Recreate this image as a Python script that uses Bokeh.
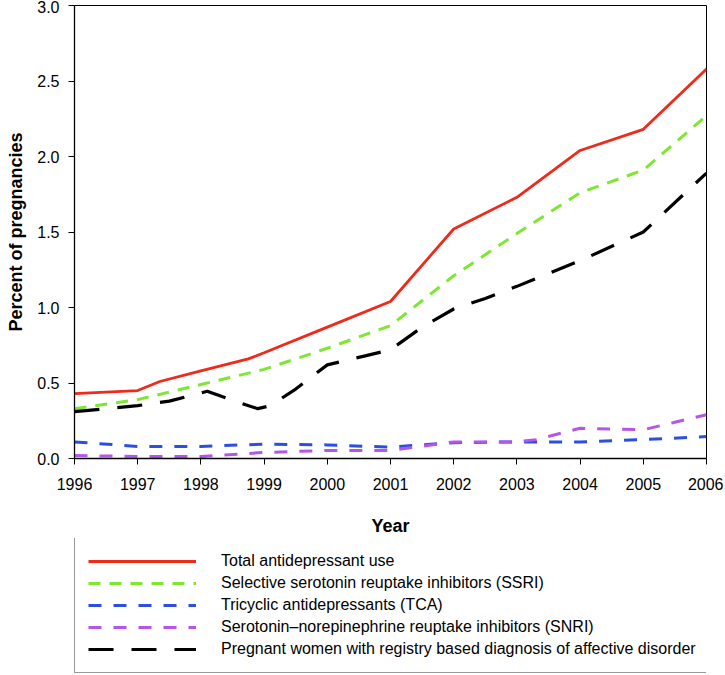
from bokeh.plotting import figure
from bokeh.layouts import column
from bokeh.models import FixedTicker, PrintfTickFormatter, Legend, LegendItem, Range1d
from bokeh.embed import file_html
from bokeh.resources import INLINE

# ---- data ----
year_ticks = [1996, 1997, 1998, 1999, 2000, 2001, 2002, 2003, 2004, 2005, 2006]
y_ticks = [0.0, 0.5, 1.0, 1.5, 2.0, 2.5, 3.0]

total_years = [1996, 1997, 1997.35, 1998, 1998.75, 1999, 2000, 2001, 2002, 2003, 2004, 2005, 2006]
total_use = [0.43, 0.45, 0.51, 0.58, 0.66, 0.70, 0.87, 1.04, 1.52, 1.73, 2.04, 2.18, 2.58]

ssri_years = [1996, 1997, 1998, 1999, 2000, 2001, 2002, 2003, 2004, 2005, 2006]
ssri = [0.33, 0.39, 0.49, 0.59, 0.73, 0.88, 1.21, 1.49, 1.76, 1.91, 2.27]

tca_years = [1996, 1997, 1998, 1999, 2000, 2001, 2002, 2003, 2004, 2005, 2006]
tca = [0.11, 0.08, 0.08, 0.095, 0.09, 0.075, 0.105, 0.11, 0.11, 0.125, 0.145]

snri_years = [1996, 1997, 1998, 1999, 2000, 2001, 2002, 2003, 2003.3, 2004, 2005, 2005.5, 2006]
snri = [0.02, 0.013, 0.013, 0.04, 0.053, 0.053, 0.11, 0.11, 0.125, 0.20, 0.19, 0.24, 0.29]

aff_years = [1996, 1997, 1997.5, 1998.1, 1998.5, 1998.9, 1999.1, 1999.5, 2000, 2000.6, 2001,
             2001.5, 2002, 2002.5, 2003, 2004, 2005, 2006]
affective = [0.31, 0.35, 0.38, 0.445, 0.385, 0.33, 0.35, 0.46, 0.62, 0.68, 0.72,
             0.87, 0.99, 1.06, 1.14, 1.31, 1.50, 1.89]

labels = [
    "Total antidepressant use",
    "Selective serotonin reuptake inhibitors (SSRI)",
    "Tricyclic antidepressants (TCA)",
    "Serotonin\u2013norepinephrine reuptake inhibitors (SNRI)",
    "Pregnant women with registry based diagnosis of affective disorder",
]

styles = [
    dict(line_color="#ee2a1b", line_width=2.8),
    dict(line_color="#7fe632", line_width=3, line_dash="12 9"),
    dict(line_color="#2c4fe2", line_width=3, line_dash="13 12"),
    dict(line_color="#b457e8", line_width=3, line_dash="13 12"),
    dict(line_color="black", line_width=3.2, line_dash="25 18"),
]

FONT = "Liberation Sans"

p = figure(width=723, height=538, output_backend="svg", toolbar_location=None,
           x_range=Range1d(1996, 2006), y_range=Range1d(0, 3),
           min_border_left=74, min_border_right=17, min_border_top=5, min_border_bottom=79)
p.background_fill_color = "white"
p.border_fill_color = "white"
p.outline_line_color = "black"
p.outline_line_width = 1
p.xgrid.visible = False
p.ygrid.visible = False

series = [(total_years, total_use), (ssri_years, ssri), (tca_years, tca),
          (snri_years, snri), (aff_years, affective)]
for (xs, ys), st in zip(series, styles):
    p.line(xs, ys, **st)

for ax in (p.xaxis[0], p.yaxis[0]):
    ax.axis_line_color = "black"
    ax.axis_line_width = 1.3
    ax.major_tick_line_color = "black"
    ax.major_tick_in = 0
    ax.major_tick_out = 6
    ax.minor_tick_line_color = None
    ax.major_label_text_font = FONT
    ax.major_label_text_font_size = "16px"
    ax.major_label_text_color = "black"
    ax.axis_label_text_font = FONT
    ax.axis_label_text_font_style = "bold"
    ax.axis_label_text_font_size = "18px"
    ax.axis_label_text_color = "black"

p.xaxis.ticker = FixedTicker(ticks=year_ticks)
p.xaxis.axis_label = "Year"
p.xaxis.major_label_standoff = 13
p.xaxis.axis_label_standoff = 23

p.yaxis.ticker = FixedTicker(ticks=y_ticks)
p.yaxis.formatter = PrintfTickFormatter(format="%.1f")
p.yaxis.axis_label = "Percent of pregnancies"
p.yaxis.major_label_standoff = 9
p.yaxis.axis_label_standoff = 8

# ---- legend panel (same series, drawn outside its visible range; only the key shows) ----
lg = figure(width=723, height=136, output_backend="svg", toolbar_location=None,
            x_range=Range1d(0, 1), y_range=Range1d(10, 11),
            min_border_left=0, min_border_right=0, min_border_top=0, min_border_bottom=0)
lg.axis.visible = False
lg.xgrid.visible = False
lg.ygrid.visible = False
lg.outline_line_color = None
lg.background_fill_color = "white"
lg.border_fill_color = "white"

items = []
for lab, (xs, ys), st in zip(labels, series, styles):
    r = lg.line(xs, ys, **st)
    items.append(LegendItem(label=lab, renderers=[r]))

legend = Legend(items=items, location=(0, 1), orientation="vertical")
legend.border_line_color = "#333333"
legend.border_line_width = 1.3
legend.background_fill_alpha = 1
legend.padding = 13
legend.spacing = 2
legend.margin = 0
legend.glyph_width = 108
legend.glyph_height = 20
legend.label_height = 20
legend.label_standoff = 25
legend.label_text_font = FONT
legend.label_text_font_size = "16px"
legend.label_text_color = "black"
lg.add_layout(legend, "center")

layout = column(p, lg, spacing=0)
open("out.html", "w").write(file_html(layout, INLINE))
